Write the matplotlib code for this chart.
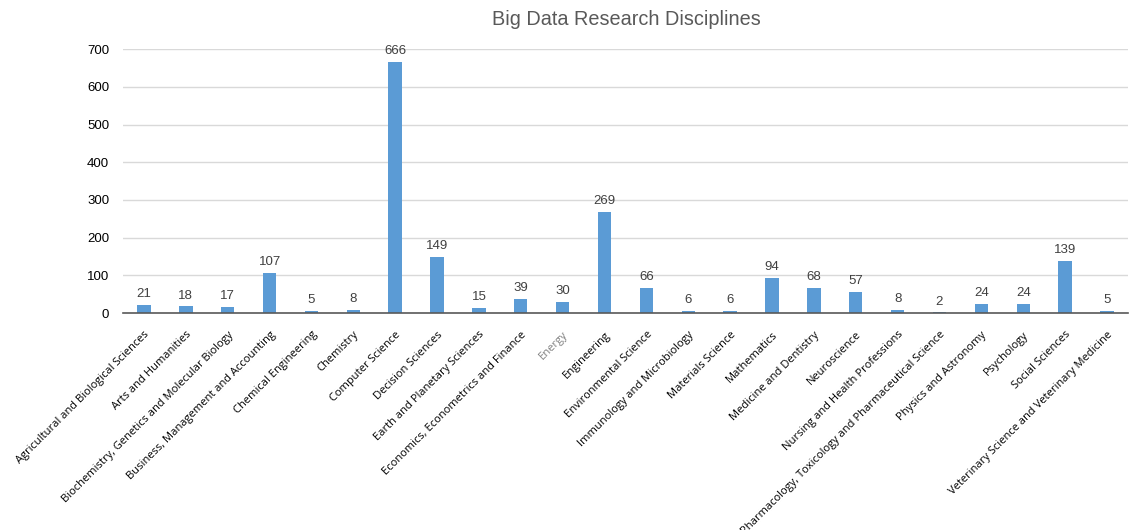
import matplotlib.pyplot as plt

categories = [
    "Agricultural and Biological Sciences", "Arts and Humanities",
    "Biochemistry, Genetics and Molecular Biology",
    "Business, Management and Accounting", "Chemical Engineering",
    "Chemistry", "Computer Science", "Decision Sciences",
    "Earth and Planetary Sciences", "Economics, Econometrics and Finance",
    "Energy", "Engineering", "Environmental Science",
    "Immunology and Microbiology", "Materials Science", "Mathematics",
    "Medicine and Dentistry", "Neuroscience",
    "Nursing and Health Professions",
    "Pharmacology, Toxicology and Pharmaceutical Science",
    "Physics and Astronomy", "Psychology", "Social Sciences",
    "Veterinary Science and Veterinary Medicine",
]
counts = [21, 18, 17, 107, 5, 8, 666, 149, 15, 39, 30, 269, 66, 6, 6, 94,
          68, 57, 8, 2, 24, 24, 139, 5]
y_ticks = [0, 100, 200, 300, 400, 500, 600, 700]


def main():
    fig = plt.figure(figsize=(11.29, 5.30), dpi=100)
    ax = fig.add_axes([0.109, 0.409, 0.89, 0.4985])

    x = range(len(categories))
    ax.bar(x, counts, width=0.32, color="#5B9BD5", zorder=3)
    for i, v in enumerate(counts):
        ax.text(i, v + 13, str(v), ha="center", va="bottom", fontsize=9.5,
                color="#404040", family="Liberation Sans", clip_on=False)

    ax.set_xlim(-0.5, len(categories) - 0.5)
    ax.set_ylim(0, 700)
    ax.set_yticks(y_ticks)
    ax.set_yticklabels([str(t) for t in y_ticks], family="Liberation Sans",
                       fontsize=9.5, color="#000000")
    ax.set_xticks(list(x))
    ax.set_xticklabels(categories, rotation=45, ha="right",
                       rotation_mode="anchor", family="Open Sans",
                       fontsize=8, color="#000000")
    ax.get_xticklabels()[10].set_color("#808080")
    ax.tick_params(axis="both", length=0)
    ax.tick_params(axis="x", pad=11.5)
    ax.tick_params(axis="y", pad=10)

    ax.yaxis.grid(True, color="#D9D9D9", linewidth=1, zorder=0)
    for side in ["top", "right", "left"]:
        ax.spines[side].set_visible(False)
    ax.spines["bottom"].set_color("#595959")
    ax.spines["bottom"].set_linewidth(1.2)
    ax.spines["bottom"].set_zorder(4)

    fig.text(0.555, 0.963, "Big Data Research Disciplines", ha="center",
             va="center", fontsize=14.3, color="#595959",
             family="Liberation Sans")

    fig.savefig("out.png", dpi=100)
    plt.close(fig)


if __name__ == "__main__":
    main()
